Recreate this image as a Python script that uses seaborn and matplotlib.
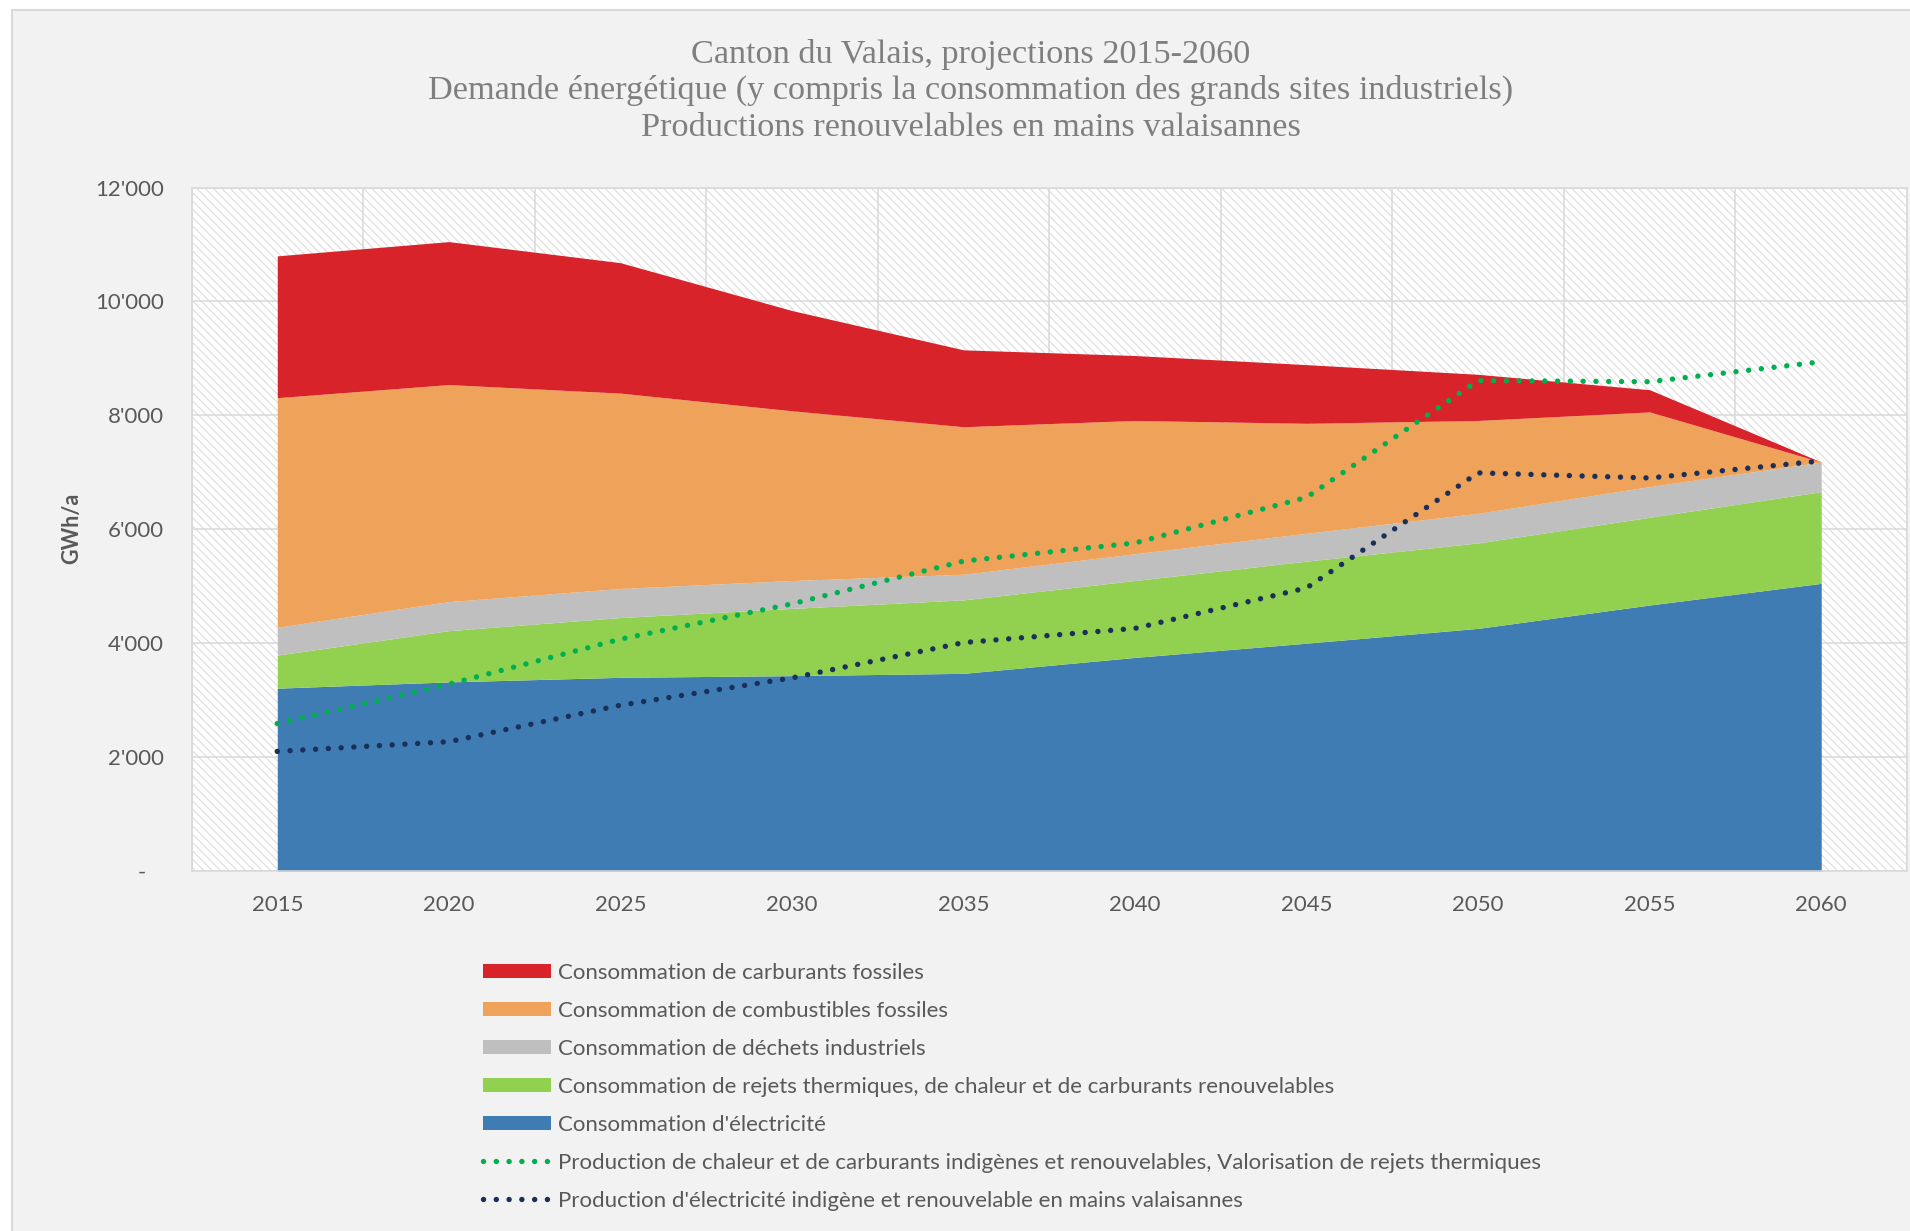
import numpy as np
import matplotlib
matplotlib.use("Agg")
import matplotlib.pyplot as plt
from matplotlib.patches import Rectangle, Patch
from matplotlib.lines import Line2D
import seaborn as sns

# ---------------- data ----------------
years = ["2015", "2020", "2025", "2030", "2035", "2040", "2045", "2050", "2055", "2060"]
conso_electricite = [3210, 3320, 3400, 3430, 3470, 3750, 4000, 4260, 4670, 5050]
conso_rejets_renouv = [580, 900, 1050, 1180, 1290, 1350, 1440, 1500, 1540, 1610]
conso_dechets = [490, 510, 510, 490, 450, 470, 490, 520, 540, 520]
conso_combustibles = [4030, 3810, 3430, 2980, 2590, 2340, 1930, 1630, 1310, 0]
conso_carburants = [2490, 2510, 2290, 1760, 1350, 1140, 1030, 810, 390, 0]
prod_chaleur = [2590, 3280, 4070, 4690, 5440, 5760, 6560, 8610, 8590, 8940]
prod_electricite = [2100, 2270, 2910, 3390, 4010, 4260, 4970, 6990, 6900, 7200]

ytick_values = [0, 2000, 4000, 6000, 8000, 10000, 12000]
ytick_labels = ["-   ", "2'000", "4'000", "6'000", "8'000", "10'000", "12'000"]

labels = [
    "Consommation de carburants fossiles",
    "Consommation de combustibles fossiles",
    "Consommation de déchets industriels",
    "Consommation de rejets thermiques, de chaleur et de carburants renouvelables",
    "Consommation d'électricité",
    "Production de chaleur et de carburants indigènes et renouvelables, Valorisation de rejets thermiques",
    "Production d'électricité indigène et renouvelable en mains valaisannes",
]
title_lines = [
    "Canton du Valais, projections 2015-2060",
    "Demande énergétique (y compris la consommation des grands sites industriels)",
    "Productions renouvelables en mains valaisannes",
]

# ---------------- style ----------------
sns.set_theme(style="white")
plt.rcParams["font.family"] = ["Lato", "DejaVu Sans"]
plt.rcParams["hatch.linewidth"] = 0.8

c_red = "#D8232A"
c_orange = "#EEA25A"
c_gray = "#BFBFBF"
c_green = "#92D050"
c_blue = "#3F7CB3"
c_dot_green = "#00B050"
c_dot_navy = "#1A3058"
grid_c = "#D9D9D9"
text_c = "#595959"

W, H = 1910, 1231
fig = plt.figure(figsize=(W / 100, H / 100), dpi=100)
fig.patch.set_facecolor("white")
fig.add_artist(Rectangle((11.5 / W, -0.01), 1.05, 1 - 9.5 / H + 0.01,
                         transform=fig.transFigure, facecolor="#F2F2F2",
                         edgecolor="#D9D9D9", lw=1.5, zorder=-10))

x0, x1, ytop, ybot = 191.5, 1907, 187.5, 871
ax = fig.add_axes([x0 / W, 1 - ybot / H, (x1 - x0) / W, (ybot - ytop) / H])
ax.set_facecolor("white")
ax.add_patch(Rectangle((0, 0), 1, 1, transform=ax.transAxes, facecolor="white",
                       edgecolor="#DCDCDC", hatch="\\\\\\\\", lw=0, zorder=0.1))

pos = np.arange(len(years))
layers = [conso_electricite, conso_rejets_renouv, conso_dechets, conso_combustibles, conso_carburants]
colors = [c_blue, c_green, c_gray, c_orange, c_red]
base = np.zeros(len(years))
for vals, col in zip(layers, colors):
    top = base + np.array(vals)
    ax.fill_between(pos, base, top, color=col, lw=0, zorder=2)
    base = top

dot_style = dict(linestyle=(0, (0.01, 2.35)), dash_capstyle="round", lw=3.9, zorder=3)
sns.lineplot(x=pos, y=prod_chaleur, ax=ax, color=c_dot_green, legend=False, **dot_style)
sns.lineplot(x=pos, y=prod_electricite, ax=ax, color=c_dot_navy, legend=False, **dot_style)

ax.set_xlim(-0.5, 9.5)
ax.set_ylim(0, 12000)
ax.set_xticks(pos)
ax.set_xticklabels(years)
ax.set_xticks(np.arange(-0.5, 10, 1), minor=True)
ax.set_yticks(ytick_values)
ax.set_yticklabels(ytick_labels)
ax.tick_params(axis="x", which="major", length=0, pad=17, labelsize=16, labelcolor=text_c)
ax.tick_params(axis="x", which="minor", length=6, width=1.1, color=grid_c, direction="out")
ax.tick_params(axis="y", length=0, pad=20, labelsize=16, labelcolor=text_c)
ax.set_xlabel("")
ax.set_ylabel("")
ax.grid(False)
ax.set_axisbelow(True)
ax.yaxis.grid(True, color=grid_c, lw=1.1, zorder=0.5)
ax.xaxis.grid(True, which="minor", color=grid_c, lw=1.1, zorder=0.5)
for s in ax.spines.values():
    s.set_visible(True)
    s.set_color(grid_c)
    s.set_linewidth(1.1)

fig.text(72 / W, 1 - 528 / H, "GWh/a", rotation=90, ha="center", va="center",
         fontsize=15.5, fontweight="bold", color=text_c)

for yy, t in zip([54, 90, 128], title_lines):
    fig.text(971 / W, 1 - yy / H, t, ha="center", va="center", fontsize=24.7,
             color="#7F7F7F", family=["Liberation Serif", "DejaVu Serif"])

dl = dict(linestyle=(0, (0.01, 2.35)), dash_capstyle="round", lw=3.9)
handles = [Patch(facecolor=c, edgecolor="none") for c in [c_red, c_orange, c_gray, c_green, c_blue]]
handles += [Line2D([0], [0], color=c_dot_green, **dl),
            Line2D([0], [0], color=c_dot_navy, **dl)]
fig.legend(handles, labels, loc="upper left", bbox_to_anchor=(483 / W, 1 - 963 / H),
           bbox_transform=fig.transFigure, frameon=False, fontsize=16,
           handlelength=3.06, handleheight=0.63, handletextpad=0.32,
           labelspacing=0.81, borderpad=0, borderaxespad=0, labelcolor=text_c)

fig.savefig("out.png", dpi=100, facecolor=fig.get_facecolor())
